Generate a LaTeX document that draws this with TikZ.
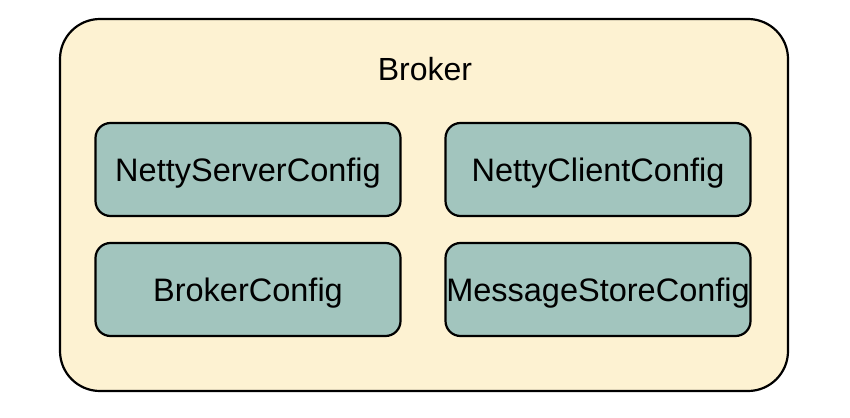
\documentclass[tikz,border=0pt]{standalone}
\usepackage{fontspec}
\setmainfont{Liberation Sans}
\definecolor{cream}{HTML}{FDF2D2}
\definecolor{teal}{HTML}{A2C5BE}
\begin{document}
\begin{tikzpicture}[x=1pt,y=-1pt,
  outer/.style={draw=black,line width=2.2pt,fill=cream,rounded corners=40pt},
  cfg/.style={draw=black,line width=2.2pt,fill=teal,rounded corners=15pt,minimum width=305pt,minimum height=93pt,font=\fontsize{32.5}{38}\selectfont,inner sep=0pt,text height=24pt,text depth=0pt}]
\useasboundingbox (0,0) rectangle (850,417);
\fill[white] (0,0) rectangle (850,417);
\draw[outer] (60,19) rectangle (788,391);
\node[font=\fontsize{32}{38}\selectfont] (broker) at (425,69) {Broker};
\node[cfg] (nsc) at (248,169.5) {NettyServerConfig};
\node[cfg] (ncc) at (598,169.5) {NettyClientConfig};
\node[cfg] (bc) at (248,289.5) {BrokerConfig};
\node[cfg] (msc) at (598,289.5) {MessageStoreConfig};
\end{tikzpicture}
\end{document}
